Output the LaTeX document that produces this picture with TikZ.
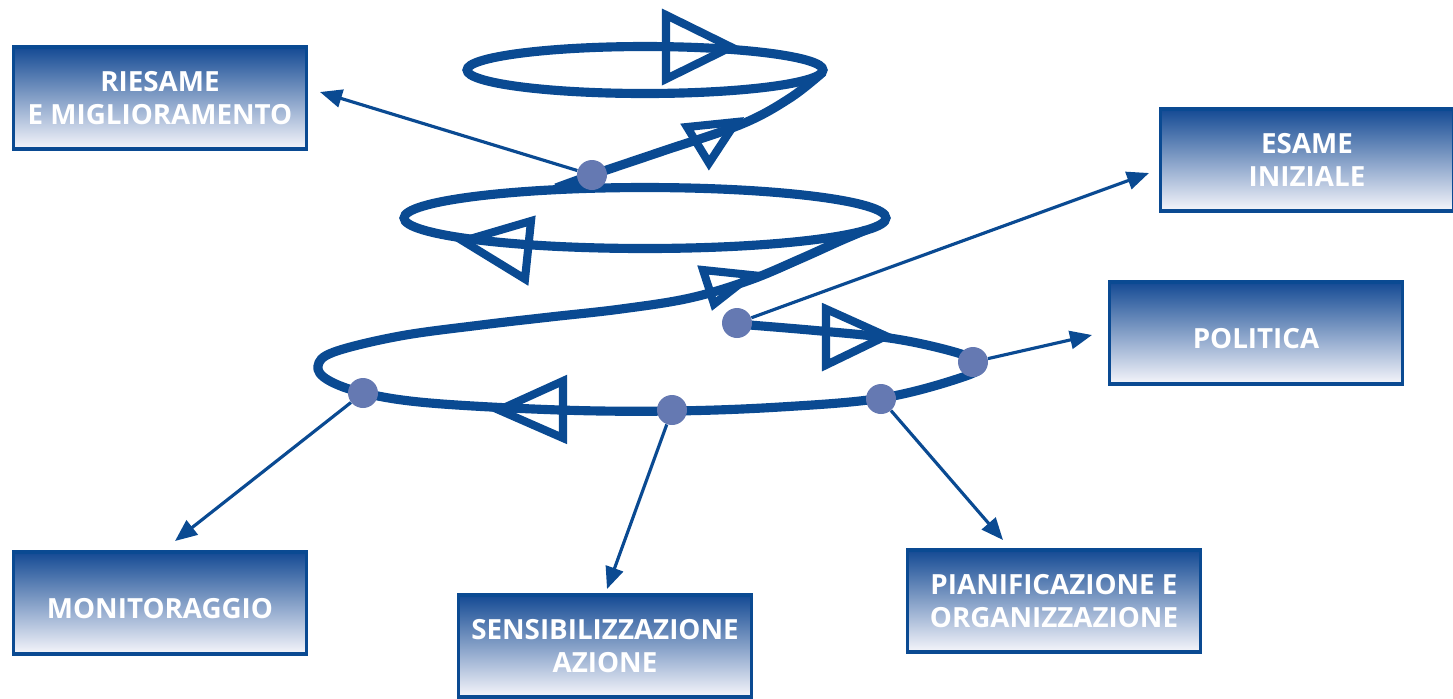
\documentclass[tikz,border=0pt]{standalone}
\usepackage{fontspec}
\setmainfont{Open Sans}
\usetikzlibrary{arrows.meta}
\definecolor{spiralblue}{RGB}{10,74,146}
\definecolor{dotblue}{RGB}{101,121,178}
\definecolor{boxtop}{RGB}{20,74,148}
\definecolor{boxmid}{RGB}{108,127,185}
\definecolor{boxbottom}{RGB}{246,246,251}
\tikzset{
    stage/.style={
           rectangle,
           draw=spiralblue, line width=2.2pt,
           top color=boxtop, middle color=boxmid, bottom color=boxbottom,
           minimum width=5.86cm,
           minimum height=2.04cm,
           inner sep=2pt,
           text=white, align=center,
           font=\fontsize{15.8}{19}\selectfont\bfseries,
           execute at begin node={\rule{0pt}{18pt}},
           },
    joint/.style={circle, fill=dotblue, minimum size=0.6cm, inner sep=0pt},
    coil/.style={draw=spiralblue, line width=5.2pt},
    tip/.style={draw=spiralblue, line width=4.6pt, line join=miter},
    link/.style={draw=spiralblue, line width=1.8pt,
           -{Triangle[length=0.44cm,width=0.36cm]}},
}

\begin{document}
\begin{tikzpicture}[x=0.02cm,y=-0.02cm]
 \useasboundingbox (0,0) rectangle (1453,698);

 % the six stages, placed at pixel coordinates
 \node[stage] (Riesame) at (160,98) {RIESAME\\E MIGLIORAMENTO};
 \node[stage] (Esame) at (1307,160) {ESAME\\INIZIALE};
 \node[stage] (Politica) at (1256,333) {POLITICA};
 \node[stage] (Monitoraggio) at (160,603) {MONITORAGGIO};
 \node[stage] (Sensibilizzazione) at (605,646) {SENSIBILIZZAZIONE\\AZIONE};
 \node[stage] (Pianificazione) at (1054,601) {PIANIFICAZIONE E\\ORGANIZZAZIONE};

 % the spiral: two closed turns and the open lower turn
 \draw[coil] (645,70) ellipse [x radius=3.56cm, y radius=0.47cm];
 \draw[coil] (645,218) ellipse [x radius=4.82cm, y radius=0.61cm];
 \draw[coil] plot[smooth, tension=0.6] coordinates {
  (737,324) (821,331) (896,339) (958,353) (982,365) (960,378) (882,398)
  (780,407) (672,411) (560,410) (430,403) (364,393) (328,380) (318,366)
  (334,352) (400,336) (481,325) (550,317) (621,309) (690,298) (750,280)
  (800,259) (840,241) (866,230)};
 \draw[coil] plot[smooth, tension=0.6] coordinates {
  (556,188) (592,175) (663,151) (742,124) (790,98) (823,72)};

 % open arrow heads on the spiral
 \draw[tip] (666,15) -- (666,79) -- (731,47) -- cycle;
 \draw[tip] (687,127) -- (709,163) -- (736,122) -- cycle;
 \draw[tip] (531,221) -- (525,279) -- (463,241) -- cycle;
 \draw[tip] (703,270) -- (714,304) -- (751,275) -- cycle;
 \draw[tip] (826,309) -- (826,365) -- (886,336) -- cycle;
 \draw[tip] (563,381) -- (563,438) -- (499,410) -- cycle;

 % points on the spiral
 \node[joint] (pRiesame) at (592,175) {};
 \node[joint] (pEsame) at (737,323) {};
 \node[joint] (pPolitica) at (973,362) {};
 \node[joint] (pMonitoraggio) at (363,393) {};
 \node[joint] (pSensibilizzazione) at (672,410) {};
 \node[joint] (pPianificazione) at (881,399) {};

 % free ends of the arrows, just short of the boxes
 \coordinate (tRiesame) at (320,92);
 \coordinate (tEsame) at (1149,173);
 \coordinate (tPolitica) at (1092,335);
 \coordinate (tMonitoraggio) at (175,541);
 \coordinate (tSensibilizzazione) at (607,589);
 \coordinate (tPianificazione) at (1003,540);

 \draw[link] (pRiesame) -- (tRiesame);
 \draw[link] (pEsame) -- (tEsame);
 \draw[link] (pPolitica) -- (tPolitica);
 \draw[link] (pMonitoraggio) -- (tMonitoraggio);
 \draw[link] (pSensibilizzazione) -- (tSensibilizzazione);
 \draw[link] (pPianificazione) -- (tPianificazione);

\end{tikzpicture}
\end{document}
